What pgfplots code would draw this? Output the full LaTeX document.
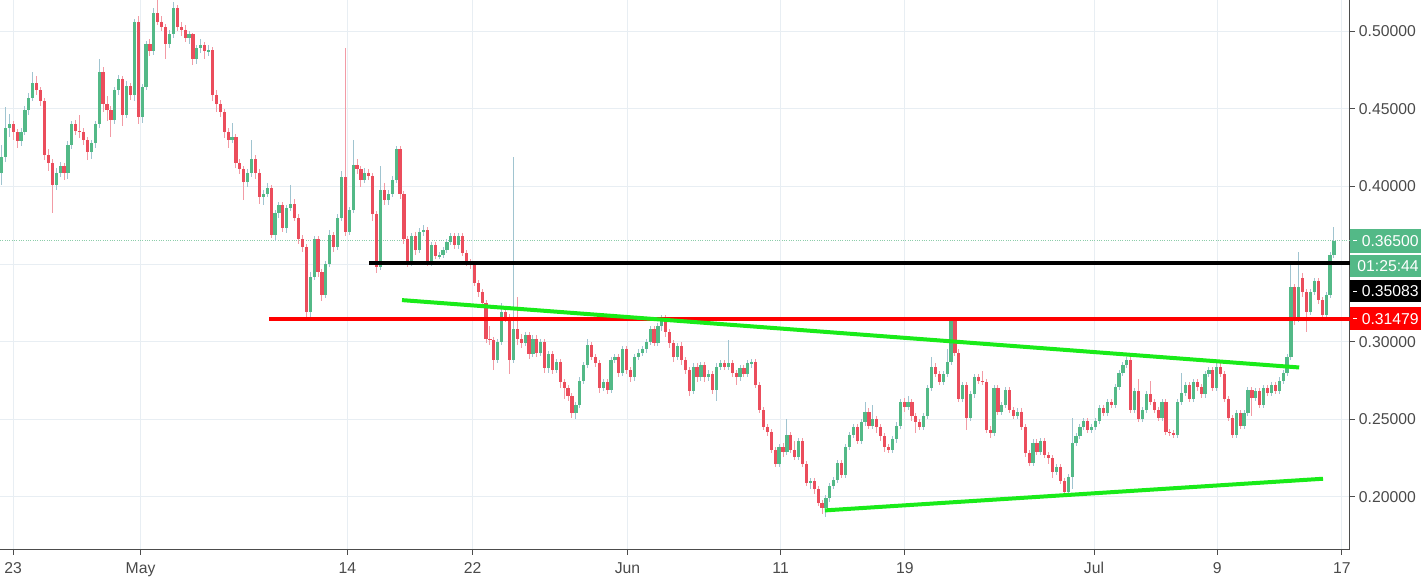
\documentclass[border=0pt]{standalone}
\usepackage{pgfplots}
\pgfplotsset{compat=1.18}
\usepackage{pgfplotstable}
\usepackage{fontspec}
\setmainfont{Liberation Sans}
\definecolor{upc}{RGB}{83,185,135}
\definecolor{dnc}{RGB}{235,77,92}
\definecolor{upw}{RGB}{160,196,208}
\definecolor{dnw}{RGB}{242,155,165}
\definecolor{gridc}{RGB}{232,238,243}
\definecolor{axc}{RGB}{76,76,76}
\definecolor{txtc}{RGB}{74,74,74}
\definecolor{trend}{RGB}{25,235,25}
\definecolor{pline}{RGB}{140,205,170}

\pgfplotstableread{
k o h l c
0 .409 .427 .401 .419
1 .419 .451 .416 .438
2 .438 .447 .432 .440
3 .440 .442 .430 .435
4 .435 .437 .425 .429
5 .429 .438 .426 .435
6 .435 .452 .433 .449
7 .449 .460 .446 .457
8 .457 .474 .455 .467
9 .467 .471 .459 .462
10 .462 .464 .452 .455
11 .455 .457 .417 .420
12 .420 .424 .410 .415
13 .415 .418 .383 .401
14 .401 .412 .398 .409
15 .409 .416 .406 .413
16 .413 .415 .404 .409
17 .409 .429 .405 .427
18 .427 .442 .424 .440
19 .440 .443 .433 .436
20 .436 .446 .431 .435
21 .435 .438 .427 .430
22 .430 .432 .417 .422
23 .422 .430 .418 .428
24 .428 .442 .425 .440
25 .440 .482 .438 .474
26 .474 .477 .448 .453
27 .453 .458 .442 .449
28 .449 .452 .432 .443
29 .443 .464 .440 .462
30 .462 .472 .459 .469
31 .469 .471 .439 .446
32 .446 .468 .444 .465
33 .465 .467 .456 .459
34 .459 .508 .455 .506
35 .506 .510 .440 .445
36 .445 .466 .441 .464
37 .464 .494 .462 .492
38 .492 .495 .484 .487
39 .487 .515 .485 .512
40 .512 .520 .504 .506
41 .506 .510 .500 .503
42 .503 .505 .482 .492
43 .492 .501 .489 .498
44 .498 .519 .496 .515
45 .515 .517 .500 .503
46 .503 .506 .497 .501
47 .501 .504 .493 .496
48 .496 .500 .492 .498
49 .498 .499 .478 .482
50 .482 .491 .479 .489
51 .489 .495 .486 .491
52 .491 .493 .482 .487
53 .487 .491 .484 .488
54 .488 .490 .455 .459
55 .459 .462 .448 .453
56 .453 .456 .445 .448
57 .448 .450 .431 .435
58 .435 .438 .425 .430
59 .430 .441 .428 .432
60 .432 .434 .412 .415
61 .415 .418 .408 .411
62 .411 .413 .391 .403
63 .403 .411 .400 .409
64 .409 .430 .406 .418
65 .418 .420 .405 .409
66 .409 .411 .389 .393
67 .393 .398 .388 .395
68 .395 .402 .393 .399
69 .399 .401 .367 .369
70 .369 .385 .365 .383
71 .383 .390 .380 .388
72 .388 .390 .371 .373
73 .373 .388 .370 .386
74 .386 .401 .384 .389
75 .389 .392 .378 .380
76 .380 .382 .363 .366
77 .366 .369 .358 .361
78 .361 .363 .315 .319
79 .319 .345 .316 .342
80 .342 .368 .340 .366
81 .366 .368 .342 .345
82 .345 .347 .326 .330
83 .330 .352 .328 .350
84 .350 .372 .348 .369
85 .369 .371 .358 .361
86 .361 .382 .359 .380
87 .380 .410 .378 .406
88 .406 .489 .368 .371
89 .371 .387 .369 .385
90 .385 .430 .383 .414
91 .414 .418 .408 .411
92 .411 .413 .400 .404
93 .404 .412 .402 .409
94 .409 .411 .404 .407
95 .407 .409 .378 .382
96 .382 .384 .344 .348
97 .348 .413 .346 .398
98 .398 .402 .388 .391
99 .391 .398 .388 .395
100 .395 .407 .393 .404
101 .404 .426 .402 .424
102 .424 .426 .392 .395
103 .395 .397 .363 .366
104 .366 .368 .348 .351
105 .351 .370 .349 .368
106 .368 .371 .356 .359
107 .359 .373 .357 .371
108 .371 .375 .368 .372
109 .372 .374 .349 .351
110 .351 .364 .349 .362
111 .362 .364 .353 .355
112 .355 .358 .353 .356
113 .356 .361 .354 .359
114 .359 .366 .357 .364
115 .364 .370 .362 .368
116 .368 .370 .360 .362
117 .362 .370 .360 .368
118 .368 .370 .355 .357
119 .357 .359 .349 .351
120 .351 .353 .347 .350
121 .350 .352 .336 .338
122 .338 .340 .329 .332
123 .332 .334 .322 .325
124 .325 .327 .299 .302
125 .302 .310 .298 .301
126 .301 .303 .282 .288
127 .288 .302 .286 .300
128 .300 .325 .298 .319
129 .319 .322 .313 .316
130 .316 .318 .279 .288
131 .288 .419 .286 .308
132 .308 .329 .298 .302
133 .302 .305 .296 .299
134 .299 .306 .297 .304
135 .304 .306 .289 .292
136 .292 .304 .290 .302
137 .302 .304 .290 .293
138 .293 .302 .291 .300
139 .300 .302 .280 .283
140 .283 .294 .280 .292
141 .292 .294 .279 .282
142 .282 .289 .280 .287
143 .287 .289 .270 .274
144 .274 .276 .263 .270
145 .270 .272 .262 .265
146 .265 .267 .251 .254
147 .254 .261 .250 .259
148 .259 .277 .257 .275
149 .275 .287 .273 .285
150 .285 .302 .283 .298
151 .298 .300 .288 .290
152 .290 .292 .284 .286
153 .286 .288 .267 .270
154 .270 .276 .268 .274
155 .274 .276 .266 .269
156 .269 .290 .267 .288
157 .288 .292 .286 .290
158 .290 .292 .277 .280
159 .280 .297 .278 .295
160 .295 .297 .279 .282
161 .282 .284 .274 .277
162 .277 .292 .275 .290
163 .290 .295 .288 .293
164 .293 .297 .291 .295
165 .295 .302 .293 .300
166 .300 .310 .298 .308
167 .308 .310 .297 .299
168 .299 .312 .297 .310
169 .310 .317 .307 .315
170 .315 .317 .303 .306
171 .306 .308 .296 .299
172 .299 .301 .287 .290
173 .290 .299 .288 .297
174 .297 .300 .285 .288
175 .288 .290 .279 .282
176 .282 .284 .265 .268
177 .268 .286 .266 .284
178 .284 .286 .274 .277
179 .277 .287 .275 .285
180 .285 .287 .274 .277
181 .277 .282 .275 .279
182 .279 .281 .266 .269
183 .269 .286 .262 .284
184 .284 .288 .282 .286
185 .286 .288 .282 .284
186 .284 .301 .282 .286
187 .286 .288 .277 .280
188 .280 .282 .272 .277
189 .277 .285 .275 .283
190 .283 .285 .277 .279
191 .279 .288 .277 .286
192 .286 .289 .283 .287
193 .287 .289 .270 .272
194 .272 .274 .254 .256
195 .256 .258 .243 .245
196 .245 .247 .239 .242
197 .242 .244 .228 .230
198 .230 .232 .219 .221
199 .221 .234 .219 .232
200 .232 .235 .226 .229
201 .229 .250 .227 .240
202 .240 .242 .228 .230
203 .230 .236 .224 .226
204 .226 .238 .224 .236
205 .236 .238 .219 .221
206 .221 .223 .207 .209
207 .209 .212 .205 .210
208 .210 .212 .202 .205
209 .205 .207 .194 .196
210 .196 .198 .189 .193
211 .193 .201 .187 .199
212 .199 .209 .197 .207
213 .207 .213 .205 .211
214 .211 .224 .209 .222
215 .222 .224 .212 .214
216 .214 .234 .212 .232
217 .232 .242 .230 .240
218 .240 .247 .238 .245
219 .245 .247 .234 .236
220 .236 .250 .234 .248
221 .248 .261 .246 .255
222 .255 .257 .244 .246
223 .246 .259 .244 .250
224 .250 .252 .241 .245
225 .245 .247 .236 .239
226 .239 .241 .229 .232
227 .232 .234 .228 .230
228 .230 .239 .228 .237
229 .237 .248 .235 .246
230 .246 .263 .244 .261
231 .261 .264 .255 .258
232 .258 .265 .256 .261
233 .261 .263 .249 .252
234 .252 .254 .241 .248
235 .248 .250 .243 .245
236 .245 .254 .243 .252
237 .252 .272 .250 .270
238 .270 .290 .268 .284
239 .284 .286 .277 .279
240 .279 .281 .272 .274
241 .274 .281 .272 .279
242 .279 .295 .277 .287
243 .287 .316 .285 .314
244 .314 .315 .291 .293
245 .293 .295 .261 .263
246 .263 .274 .261 .272
247 .272 .274 .243 .251
248 .251 .268 .249 .266
249 .266 .279 .264 .277
250 .277 .279 .273 .275
251 .275 .281 .272 .274
252 .274 .276 .241 .243
253 .243 .246 .238 .241
254 .241 .272 .239 .270
255 .270 .272 .253 .255
256 .255 .261 .253 .259
257 .259 .271 .257 .269
258 .269 .271 .254 .256
259 .256 .258 .250 .252
260 .252 .257 .250 .255
261 .255 .257 .243 .245
262 .245 .247 .226 .228
263 .228 .230 .220 .222
264 .222 .237 .220 .235
265 .235 .237 .227 .229
266 .229 .238 .227 .236
267 .236 .238 .225 .227
268 .227 .229 .221 .225
269 .225 .227 .212 .216
270 .216 .221 .214 .219
271 .219 .221 .208 .210
272 .210 .212 .200 .203
273 .203 .215 .201 .213
274 .213 .251 .205 .235
275 .235 .241 .233 .239
276 .239 .247 .237 .245
277 .245 .251 .243 .249
278 .249 .251 .241 .243
279 .243 .247 .241 .245
280 .245 .251 .243 .249
281 .249 .259 .247 .257
282 .257 .259 .252 .254
283 .254 .263 .252 .261
284 .261 .263 .257 .259
285 .259 .273 .257 .271
286 .271 .282 .269 .280
287 .280 .287 .278 .285
288 .285 .290 .283 .288
289 .288 .290 .254 .256
290 .256 .270 .254 .268
291 .268 .276 .248 .250
292 .250 .258 .248 .256
293 .256 .268 .254 .266
294 .266 .275 .259 .261
295 .261 .263 .254 .256
296 .256 .258 .249 .251
297 .251 .263 .249 .261
298 .261 .263 .240 .242
299 .242 .244 .239 .241
300 .241 .243 .238 .240
301 .240 .263 .238 .261
302 .261 .280 .259 .267
303 .267 .274 .265 .272
304 .272 .274 .261 .263
305 .263 .276 .261 .274
306 .274 .276 .268 .271
307 .271 .273 .264 .266
308 .266 .281 .264 .279
309 .279 .284 .277 .282
310 .282 .284 .268 .270
311 .270 .286 .268 .284
312 .284 .288 .277 .279
313 .279 .281 .261 .263
314 .263 .265 .249 .251
315 .251 .253 .238 .240
316 .240 .256 .238 .254
317 .254 .256 .244 .246
318 .246 .256 .244 .254
319 .254 .271 .252 .269
320 .269 .271 .252 .264
321 .264 .270 .262 .268
322 .268 .270 .257 .259
323 .259 .272 .257 .270
324 .270 .272 .265 .267
325 .267 .274 .265 .272
326 .272 .274 .266 .268
327 .268 .277 .266 .275
328 .275 .282 .273 .280
329 .280 .292 .278 .290
330 .290 .351 .288 .335
331 .335 .337 .311 .315
332 .315 .358 .313 .335
333 .341 .344 .329 .332
334 .332 .334 .306 .319
335 .319 .334 .317 .332
336 .332 .341 .330 .339
337 .339 .341 .324 .327
338 .327 .329 .315 .317
339 .317 .332 .315 .330
340 .330 .358 .328 .356
341 .356 .374 .354 .365
}\candles

\begin{document}
\begin{tikzpicture}
\path[use as bounding box] (0,-21pt) rectangle (1065.75pt,412.5pt);
\begin{axis}[
  at={(0,0)}, anchor=south west,
  scale only axis, width=1012.5pt, height=412.5pt,
  xmin=-0.384, xmax=345.1, ymin=0.16579, ymax=0.52017,
  axis x line*=bottom, axis y line*=right,
  axis line style={draw=axc, line width=0.75pt},
  tick align=outside, major tick length=3.5pt,
  tick style={draw=axc, line width=0.75pt},
  xtick={3,35.6,88.5,120.6,160.2,199.4,231.2,279.6,311.1,343},
  xticklabels={23,May,14,22,Jun,11,19,Jul,9,17},
  ytick={0.2,0.25,0.3,0.35,0.4,0.45,0.5},
  yticklabels={0.20000,0.25000,0.30000,,0.40000,0.45000,0.50000},
  grid=major, major grid style={draw=gridc, line width=0.75pt},
  tick label style={font=\fontsize{11.8}{14}\selectfont, text=txtc},
  yticklabel style={anchor=west, inner sep=0pt, xshift=3pt},
  xticklabel style={anchor=north, inner sep=0pt, yshift=-5.5pt},
  clip=false,
]
\addplot[pline, densely dotted, line width=0.75pt, forget plot] coordinates {(-0.384,0.365) (345.1,0.365)};

\addplot[draw=none, mark=none, forget plot, restrict expr to domain={\thisrow{c}-\thisrow{o}}{0:1},
  error bars/.cd, y dir=both, y explicit, error mark=none,
  error bar style={draw=upw, line width=0.75pt}]
  table[x=k, y expr={(\thisrow{h}+\thisrow{l})/2}, y error expr={(\thisrow{h}-\thisrow{l})/2}] {\candles};
\addplot[draw=none, mark=none, forget plot, restrict expr to domain={\thisrow{c}-\thisrow{o}}{-1:-0.0001},
  error bars/.cd, y dir=both, y explicit, error mark=none,
  error bar style={draw=dnw, line width=0.75pt}]
  table[x=k, y expr={(\thisrow{h}+\thisrow{l})/2}, y error expr={(\thisrow{h}-\thisrow{l})/2}] {\candles};
\addplot[draw=none, mark=none, forget plot, restrict expr to domain={\thisrow{c}-\thisrow{o}}{0:1},
  error bars/.cd, y dir=both, y explicit, error mark=none,
  error bar style={draw=upc, line width=2.4pt}]
  table[x=k, y expr={(\thisrow{o}+\thisrow{c})/2}, y error expr={abs(\thisrow{c}-\thisrow{o})/2}] {\candles};
\addplot[draw=none, mark=none, forget plot, restrict expr to domain={\thisrow{c}-\thisrow{o}}{-1:-0.0001},
  error bars/.cd, y dir=both, y explicit, error mark=none,
  error bar style={draw=dnc, line width=2.4pt}]
  table[x=k, y expr={(\thisrow{o}+\thisrow{c})/2}, y error expr={abs(\thisrow{c}-\thisrow{o})/2}] {\candles};

\addplot[black, line width=3pt, forget plot] coordinates {(94.1,0.35083) (345.1,0.35083)};
\addplot[red, line width=3.2pt, forget plot] coordinates {(68.5,0.31479) (345.1,0.31479)};
\addplot[trend, line width=3pt, forget plot] coordinates {(102.5,0.3268) (332.1,0.2834)};
\addplot[trend, line width=3pt, forget plot] coordinates {(210.7,0.1913) (338.2,0.2117)};

\fill[upc] (axis cs:345.1,0.37240) rectangle (axis cs:363.3,0.35736);
\fill[upc] (axis cs:345.1,0.35586) rectangle (axis cs:363.3,0.34149);
\fill[black] (axis cs:345.1,0.33976) rectangle (axis cs:363.3,0.32537);
\fill[red] (axis cs:345.1,0.32216) rectangle (axis cs:363.3,0.30727);
\draw[white, line width=0.75pt] (axis cs:345.9,0.36500) -- (axis cs:346.9,0.36500);
\draw[white, line width=0.75pt] (axis cs:345.9,0.33266) -- (axis cs:346.9,0.33266);
\draw[white, line width=0.75pt] (axis cs:345.9,0.31479) -- (axis cs:346.9,0.31479);
\begin{scope}[every node/.style={anchor=east, inner sep=0pt, text=white, font=\fontsize{11.8}{14}\selectfont}]
\node at (axis cs:362.76,0.36489) {0.36500};
\node at (axis cs:362.76,0.34867) {01:25:44};
\node at (axis cs:362.76,0.33256) {0.35083};
\node at (axis cs:362.76,0.31471) {0.31479};
\end{scope}
\end{axis}
\end{tikzpicture}
\end{document}
